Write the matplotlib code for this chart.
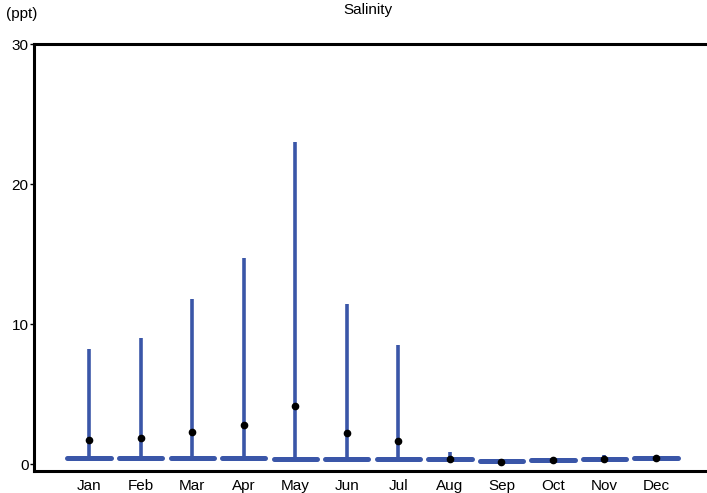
import matplotlib.pyplot as plt
import numpy as np

plt.rcParams['font.family'] = ['Liberation Sans', 'DejaVu Sans']

# Monthly salinity (ppt): min, max and mean
months = ['Jan', 'Feb', 'Mar', 'Apr', 'May', 'Jun', 'Jul', 'Aug', 'Sep', 'Oct', 'Nov', 'Dec']
sal_min = [0.45, 0.45, 0.42, 0.42, 0.36, 0.38, 0.36, 0.36, 0.2, 0.3, 0.38, 0.43]
sal_max = [8.2, 9.0, 11.8, 14.7, 23.0, 11.4, 8.5, 0.85, 0.2, 0.3, 0.65, 0.43]
sal_mean = [1.72, 1.87, 2.3, 2.8, 4.16, 2.2, 1.65, 0.36, 0.15, 0.3, 0.36, 0.43]

blue = '#3a56a8'

fig = plt.figure(figsize=(7.07, 4.93), dpi=100)
ax = fig.add_axes([34 / 707, 1 - 471 / 493, 673 / 707, 427 / 493])

x = np.arange(len(months))
# horizontal base bars at the minimum
ax.hlines(sal_min, x - 0.42, x + 0.42, color=blue, lw=3.6, capstyle='round')
# vertical range lines
ax.vlines(x, sal_min, sal_max, color=blue, lw=2.6)
# mean points
ax.plot(x, sal_mean, 'o', color='black', ms=4.5)

ax.set_xlim(-1.07, 11.99)
ax.set_ylim(-0.5, 30)
ax.set_xticks(x)
ax.set_xticklabels(months, fontsize=11)
ax.set_yticks([0, 10, 20, 30])
ax.tick_params(axis='x', length=0, pad=6)
ax.tick_params(axis='y', length=3, width=1, labelsize=11, pad=1)

ax.spines['right'].set_visible(False)
for s in ['left', 'top', 'bottom']:
    ax.spines[s].set_linewidth(2.2)

fig.text(368 / 707, 1 - 10 / 493, 'Salinity', ha='center', va='center', fontsize=11)
fig.text(22 / 707, 1 - 14 / 493, '(ppt)', ha='center', va='center', fontsize=11)

fig.savefig('out.png', dpi=100)
